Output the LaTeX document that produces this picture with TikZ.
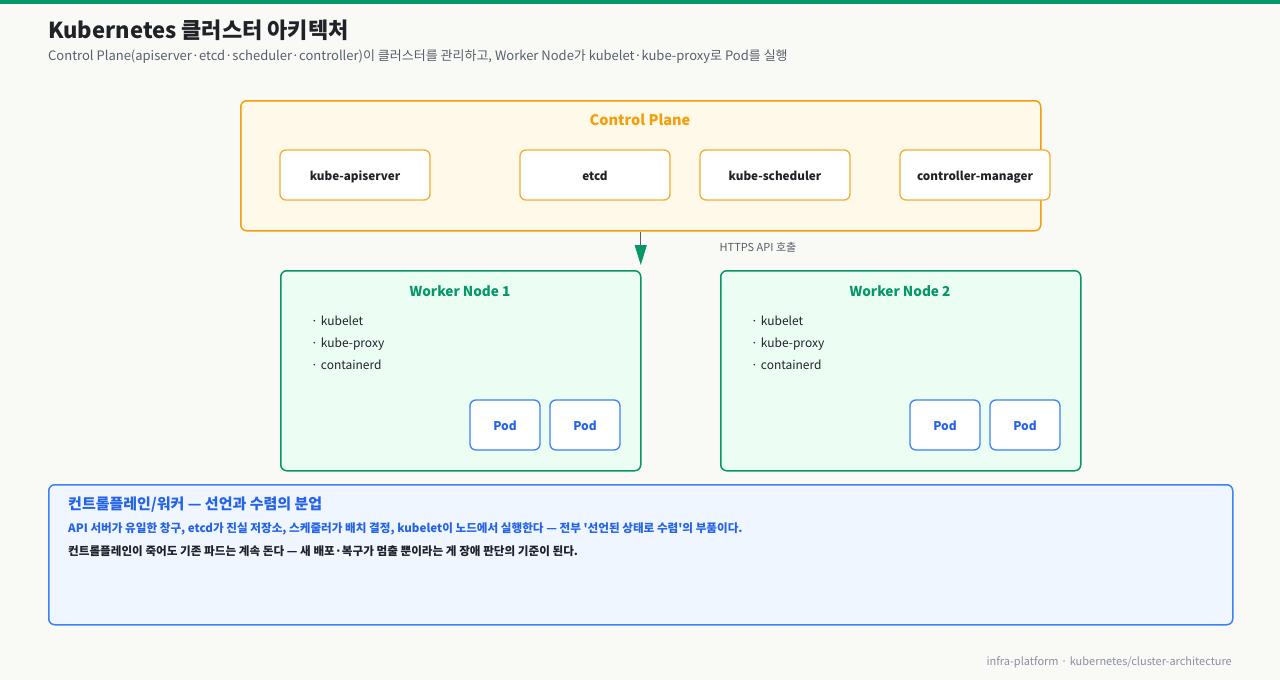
\documentclass[tikz,border=0pt]{standalone}
\usepackage{fontspec}
\setmainfont{Noto Sans CJK KR}
\usepackage{tikz}
\usetikzlibrary{arrows.meta,positioning,calc}
\usepackage{xcolor}

\definecolor{pagebg}{HTML}{F9F9F6}
\definecolor{topbar}{HTML}{059669}
\definecolor{inkdark}{HTML}{1F2328}
\definecolor{inkgray}{HTML}{57606A}
\definecolor{inkfoot}{HTML}{8B90A0}
\definecolor{cporange}{HTML}{F59E0B}
\definecolor{cpfill}{HTML}{FEF9E8}
\definecolor{wngreen}{HTML}{059669}
\definecolor{wnfill}{HTML}{ECFDF4}
\definecolor{podblue}{HTML}{2563EB}
\definecolor{podline}{HTML}{3B82F6}
\definecolor{notefill}{HTML}{EFF6FF}

\newcommand{\fs}[1]{\fontsize{#1}{#1}\selectfont}

\tikzset{
  panel/.style={draw,rounded corners=6pt,line width=1.5pt,inner sep=0pt,anchor=north west},
  cpbox/.style={draw=cporange!85,fill=white,rounded corners=6pt,line width=1.3pt,
    minimum width=150pt,minimum height=50pt,inner sep=0pt,text height=11pt,text depth=1pt,
    font=\fs{11.7}\bfseries,text=inkdark},
  podbox/.style={draw=podline,fill=white,rounded corners=6pt,line width=1.3pt,
    minimum width=70pt,minimum height=50pt,inner sep=0pt,text height=11pt,text depth=1pt,
    font=\fs{12}\bfseries,text=podblue},
  item/.style={anchor=west,inner sep=0pt,text height=9pt,text depth=3pt,
    font=\fs{12},text=inkdark}
}

\begin{document}
\begin{tikzpicture}[x=1pt,y=-1pt]
  \useasboundingbox (0,0) rectangle (1280,680);
  \fill[pagebg] (0,0) rectangle (1280,680);
  \fill[topbar] (0,0) rectangle (1280,4);

  % heading
  \node[anchor=west,inner sep=0pt,font=\fs{22}\bfseries,text=inkdark] (title) at (48,30)
    {Kubernetes 클러스터 아키텍처};
  \node[anchor=west,inner sep=0pt,font=\fs{13},text=inkgray] (subtitle) at (48,57)
    {Control Plane(apiserver·etcd·scheduler·controller)이 클러스터를 관리하고, Worker Node가 kubelet·kube-proxy로 Pod를 실행};

  % control plane
  \node[panel,draw=cporange,fill=cpfill,minimum width=800pt,minimum height=130pt] (cp) at (240,100) {};
  \node[font=\fs{14.5}\bfseries,text=cporange] (cptitle) at (640,120) {Control Plane};
  \node[cpbox] (apiserver) at (355,175) {kube-apiserver};
  \node[cpbox] (etcd) at (595,175) {etcd};
  \node[cpbox] (sched) at (775,175) {kube-scheduler};
  \node[cpbox] (ctrl) at (975,175) {controller-manager};

  % worker nodes
  \node[panel,draw=wngreen,fill=wnfill,minimum width=360pt,minimum height=200pt] (wn1) at (280,270) {};
  \node[panel,draw=wngreen,fill=wnfill,minimum width=360pt,minimum height=200pt] (wn2) at (720,270) {};
  \node[font=\fs{13.6}\bfseries,text=wngreen] (wn1title) at (460,291) {Worker Node 1};
  \node[font=\fs{13.6}\bfseries,text=wngreen] (wn2title) at (900,291) {Worker Node 2};
  \foreach \n/\x in {1/311,2/751}{
    \node[item] (kubelet\n) at (\x,322.5) {·\hspace{3pt}kubelet};
    \node[item] (proxy\n) at (\x,344.5) {·\hspace{3pt}kube-proxy};
    \node[item] (ctrd\n) at (\x,366.5) {·\hspace{3pt}containerd};
  }
  \node[podbox] (pod1a) at (505,425) {Pod};
  \node[podbox] (pod1b) at (585,425) {Pod};
  \node[podbox] (pod2a) at (945,425) {Pod};
  \node[podbox] (pod2b) at (1025,425) {Pod};

  % api call
  \draw[inkgray,line width=1.2pt,shorten >=5pt,-{Triangle[length=20pt,width=12pt,color=wngreen]}]
    (cp.south) -- (cp.south |- wn1.north);
  \node[font=\fs{11},text=inkgray] (apicall) at (758,247) {HTTPS API 호출};

  % note
  \node[panel,draw=podline,fill=notefill,minimum width=1184pt,minimum height=140pt] (note) at (48,484) {};
  \node[anchor=west,inner sep=0pt,font=\fs{15}\bfseries,text=podblue] (notetitle) at (68,505)
    {컨트롤플레인/워커 — 선언과 수렴의 분업};
  \node[anchor=west,inner sep=0pt,font=\fs{11.6}\bfseries,text=podblue] (noteone) at (68,529)
    {API 서버가 유일한 창구, etcd가 진실 저장소, 스케줄러가 배치 결정, kubelet이 노드에서 실행한다 — 전부 \textquotesingle 선언된 상태로 수렴\textquotesingle 의 부품이다.};
  \node[anchor=west,inner sep=0pt,font=\fs{11.6}\bfseries,text=inkdark] (notetwo) at (68,551)
    {컨트롤플레인이 죽어도 기존 파드는 계속 돈다 — 새 배포·복구가 멈출 뿐이라는 게 장애 판단의 기준이 된다.};

  % footer
  \node[anchor=east,inner sep=0pt,font=\fs{11},text=inkfoot] (footer) at (1232,662)
    {infra-platform · kubernetes/cluster-architecture};
\end{tikzpicture}
\end{document}
